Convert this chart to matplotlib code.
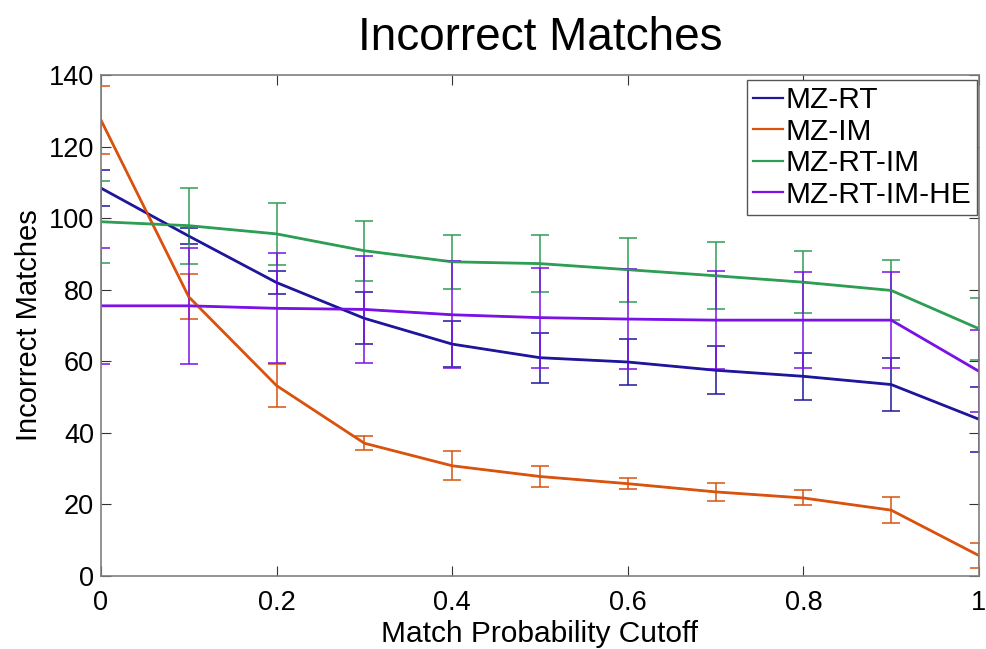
import numpy as np
import matplotlib.pyplot as plt

plt.rcParams['font.family'] = ['Liberation Sans', 'DejaVu Sans']

cutoff = [0, 0.1, 0.2, 0.3, 0.4, 0.5, 0.6, 0.7, 0.8, 0.9, 1.0]

mz_rt = [108.4, 95.0, 82.0, 72.0, 64.8, 61.0, 59.8, 57.5, 55.8, 53.5, 43.8]
mz_rt_err = [5.0, 2.3, 3.2, 7.3, 6.4, 7.0, 6.4, 6.7, 6.5, 7.5, 9.1]

mz_im = [127.4, 78.0, 53.2, 37.1, 30.8, 27.8, 25.8, 23.5, 21.8, 18.4, 5.7]
mz_im_err = [9.5, 6.3, 6.1, 2.0, 4.0, 2.9, 1.5, 2.5, 2.1, 3.7, 3.5]

mz_rt_im = [99.0, 97.9, 95.6, 90.9, 87.8, 87.3, 85.6, 83.9, 82.1, 79.8, 69.1]
mz_rt_im_err = [11.4, 10.6, 8.6, 8.4, 7.5, 7.9, 8.9, 9.3, 8.7, 8.4, 8.7]

mz_rt_im_he = [75.5, 75.5, 74.8, 74.5, 73.0, 72.2, 71.8, 71.5, 71.5, 71.5, 57.2]
mz_rt_im_he_err = [16.2, 16.2, 15.4, 15.0, 15.0, 14.0, 14.0, 13.6, 13.5, 13.5, 11.5]

labels = ['MZ-RT', 'MZ-IM', 'MZ-RT-IM', 'MZ-RT-IM-HE']
colors = ['#1f169c', '#d9530e', '#2e9e55', '#7a12e6']

series = [(mz_rt, mz_rt_err), (mz_im, mz_im_err),
          (mz_rt_im, mz_rt_im_err), (mz_rt_im_he, mz_rt_im_he_err)]

fig = plt.figure(figsize=(9.86, 6.49), dpi=100)
ax = fig.add_axes([0.1024, 0.1125, 0.8905, 0.7719])

handles = []
for (y, err), lab, c in zip(series, labels, colors):
    ax.errorbar(cutoff, y, yerr=err, color=c, lw=1.1, elinewidth=1.1,
                capsize=6.5, capthick=1.1)
    line, = ax.plot(cutoff, y, color=c, lw=2.0, label=lab)
    handles.append(line)

ax.set_xlim(0, 1)
ax.set_ylim(0, 140)
ax.set_xticks([0, 0.2, 0.4, 0.6, 0.8, 1])
ax.set_xticklabels(['0', '0.2', '0.4', '0.6', '0.8', '1'])
ax.set_yticks(np.arange(0, 141, 20))
ax.tick_params(direction='in', length=7, width=0.8, labelsize=19.5,
               top=True, right=True, colors='#333333', labelcolor='black')
ax.tick_params(axis='x', pad=10)
ax.tick_params(axis='y', pad=5)
for s in ax.spines.values():
    s.set_color('#7f7f7f')
    s.set_linewidth(1.2)

ax.set_title('Incorrect Matches', fontsize=33, pad=18)
ax.set_xlabel('Match Probability Cutoff', fontsize=21.5, labelpad=3)
ax.set_ylabel('Incorrect Matches', fontsize=21, labelpad=4)

leg = ax.legend(handles=handles, loc='upper right', fontsize=21.5,
                handlelength=1.0, handletextpad=0.1, borderpad=0.2,
                labelspacing=0.12, fancybox=False, framealpha=1,
                borderaxespad=0, bbox_to_anchor=(0.998, 0.99))
leg.get_frame().set_edgecolor('#555555')
leg.get_frame().set_linewidth(1.0)
for h in leg.get_lines():
    h.set_linewidth(1.6)

fig.savefig('out.png', dpi=100)
